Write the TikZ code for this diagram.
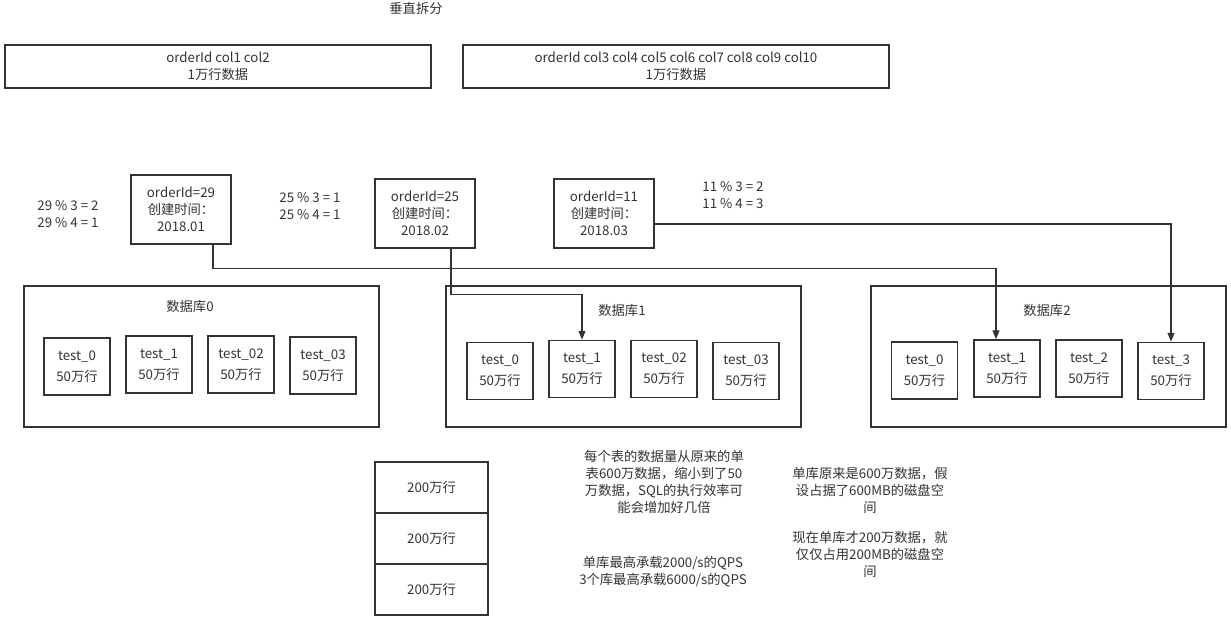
\documentclass[tikz,border=0pt]{standalone}
\usepackage{fontspec}
\setmainfont{Noto Sans CJK SC}
\usetikzlibrary{arrows.meta}
\definecolor{ink}{HTML}{333333}
\tikzset{
  base/.style={font=\fontsize{13.3}{17}\selectfont, text=ink, align=center, inner sep=0pt},
  bx/.style={base, draw=ink, line width=1.5pt},
  lbl/.style={base},
  arr/.style={draw=ink, line width=1.3pt, -{Triangle[length=9pt,width=7pt]}},
}
\begin{document}
\begin{tikzpicture}[x=1pt,y=-1pt]
\useasboundingbox (0,0) rectangle (1231,621);
\node[lbl] (title) at (416,8) {垂直拆分};
\node[bx, minimum width=426pt, minimum height=43pt] (b1) at (218,66.5) {orderId col1 col2\\1万行数据};
\node[bx, minimum width=426pt, minimum height=43pt] (b2) at (676,66.5) {orderId col3 col4 col5 col6 col7 col8 col9 col10\\1万行数据};

\node[bx, minimum width=100pt, minimum height=69pt] (o29) at (181,209.5) {orderId=29\\创建时间：\\2018.01};
\node[bx, minimum width=100pt, minimum height=69pt] (o25) at (425,213.5) {orderId=25\\创建时间：\\2018.02};
\node[bx, minimum width=100pt, minimum height=69pt] (o11) at (604,213.5) {orderId=11\\创建时间：\\2018.03};

\node[lbl] (m29) at (68,214) {29 \% 3 = 2\\29 \% 4 = 1};
\node[lbl] (m25) at (310,206) {25 \% 3 = 1\\25 \% 4 = 1};
\node[lbl] (m11) at (733,195) {11 \% 3 = 2\\11 \% 4 = 3};

\node[bx, minimum width=355pt, minimum height=141pt] (db0) at (201.5,356.5) {};
\node[bx, minimum width=355pt, minimum height=141pt] (db1) at (623.5,356.5) {};
\node[bx, minimum width=355pt, minimum height=141pt] (db2) at (1048.5,356.5) {};
\node[lbl] (l0) at (190,306) {数据库0};
\node[lbl] (l1) at (622,310) {数据库1};
\node[lbl] (l2) at (1047,310) {数据库2};

\tikzset{tb/.style={bx, minimum width=66pt, minimum height=57pt}}
\node[tb] (t00) at (77,366.5) {test\_0\\[4pt]50万行};
\node[tb] (t01) at (159,364.5) {test\_1\\[4pt]50万行};
\node[tb] (t02) at (241,364.5) {test\_02\\[4pt]50万行};
\node[tb] (t03) at (323,365.5) {test\_03\\[4pt]50万行};
\node[tb] (t10) at (500,371) {test\_0\\[4pt]50万行};
\node[tb] (t11) at (582,369) {test\_1\\[4pt]50万行};
\node[tb] (t12) at (664,369) {test\_02\\[4pt]50万行};
\node[tb] (t13) at (746,371) {test\_03\\[4pt]50万行};
\node[tb] (t20) at (924.5,370.5) {test\_0\\[4pt]50万行};
\node[tb] (t21) at (1007,368.5) {test\_1\\[4pt]50万行};
\node[tb] (t22) at (1089,368.5) {test\_2\\[4pt]50万行};
\node[tb] (t23) at (1171,371) {test\_3\\[4pt]50万行};

\draw[arr] ([xshift=32pt]o29.south) -- ++(0,24) -| ([xshift=-11pt]t21.north);
\draw[arr] ([xshift=26pt]o25.south) -- ++(0,46) -| (t11.north);
\draw[arr] ([yshift=-10.5pt]o11.east) -| (t23.north);

\tikzset{cell/.style={bx, minimum width=113pt, minimum height=51pt}}
\node[cell] (s1) at (431.5,487.5) {200万行};
\node[cell] (s2) at (431.5,538.5) {200万行};
\node[cell] (s3) at (431.5,589.5) {200万行};

\node[lbl] (n1) at (664,482) {每个表的数据量从原来的单\\表600万数据，缩小到了50\\万数据，SQL的执行效率可\\能会增加好几倍};
\node[lbl] (n2) at (663,572) {单库最高承载2000/s的QPS\\3个库最高承载6000/s的QPS};
\node[lbl] (n3) at (870,490) {单库原来是600万数据，假\\设占据了600MB的磁盘空\\间};
\node[lbl] (n4) at (870,554) {现在单库才200万数据，就\\仅仅占用200MB的磁盘空\\间};
\end{tikzpicture}
\end{document}
